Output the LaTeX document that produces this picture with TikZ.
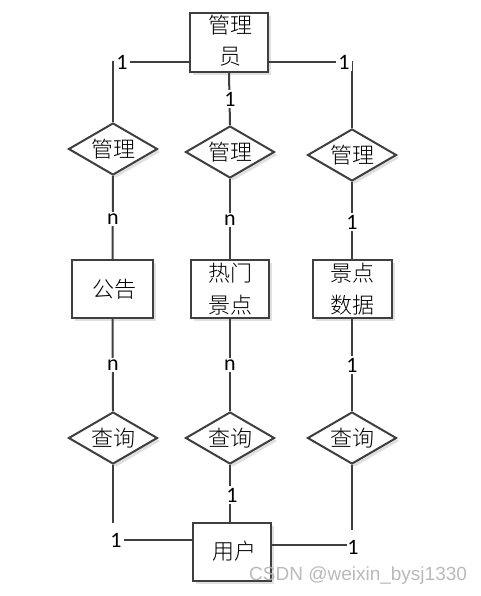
\documentclass[tikz,border=0pt]{standalone}
\usepackage{fontspec}
\setmainfont{Carlito}
\newfontfamily\cjk{Noto Sans CJK SC Light}
\newfontfamily\wmfont{Liberation Sans}
\usetikzlibrary{shapes.geometric,shadows}
\definecolor{ln}{HTML}{3F3F3F}
\tikzset{
  ent/.style={draw=ln, line width=2pt, fill=white, minimum width=80pt, minimum height=58pt, inner sep=0pt,
    drop shadow={shadow xshift=3pt, shadow yshift=-3pt, fill=black!20, opacity=0.6}},
  rel/.style={diamond, draw=ln, line width=2pt, fill=white, minimum width=89pt, minimum height=52pt, inner sep=0pt, aspect=1.7,
    font=\cjk\fontsize{22}{26}\selectfont,
    drop shadow={shadow xshift=3pt, shadow yshift=-3pt, fill=black!20, opacity=0.6}},
  etext/.style={font=\cjk\fontsize{22}{32}\selectfont, align=center, inner sep=0pt},
  card/.style={fill=white, inner sep=2pt, font=\fontsize{22}{24}\selectfont},
  conn/.style={draw=ln, line width=2pt}
}
\begin{document}
\begin{tikzpicture}[x=1pt,y=-1pt]
\useasboundingbox (0,0) rectangle (481,596);
% entities
\node[ent, minimum width=78pt, minimum height=59pt] (mgr) at (229,42.5) {};
\node[etext] (mgrt) at (230,41) {管理\\[-1pt]员};
\node[ent, minimum width=81pt] (e1) at (112.5,289) {};
\node[etext] (e1t) at (114,289) {公告};
\node[ent, minimum width=78pt] (e2) at (230,289) {};
\node[etext] (e2t) at (230,289) {热门\\景点};
\node[ent, minimum width=79pt] (e3) at (352,289) {};
\node[etext] (e3t) at (352,289) {景点\\数据};
\node[ent, minimum width=78pt] (user) at (232,552) {};
\node[etext] (usert) at (234,551) {用户};
% relationships
\node[rel] (d1) at (113,149) {管理};
\node[rel] (d2) at (230,152) {管理};
\node[rel] (d3) at (352,155) {管理};
\node[rel] (q1) at (113,438) {查询};
\node[rel] (q2) at (230,438) {查询};
\node[rel] (q3) at (352,438) {查询};
% connectors
\coordinate (mgrL) at ([yshift=-19.5pt]mgr.west);
\coordinate (mgrR) at ([yshift=-19.5pt]mgr.east);
\coordinate (c1) at (113,62);
\coordinate (c2) at (352,62);
\draw[conn] (mgrL) -- (c1) -- (d1.north);
\draw[conn] (mgrR) -- (c2) -- (d3.north);
\draw[conn] (mgr.south) -- (d2.north);
\draw[conn] (d1.south) -- (e1.north);
\draw[conn] (d2.south) -- (e2.north);
\draw[conn] (d3.south) -- (e3.north);
\draw[conn] (e1.south) -- (q1.north);
\draw[conn] (e2.south) -- (q2.north);
\draw[conn] (e3.south) -- (q3.north);
\draw[conn] (q2.south) -- (q2.south |- user.north);
\coordinate (ul) at ([yshift=12pt]user.west);
\coordinate (ur) at ([yshift=7pt]user.east);
\coordinate (c3) at (113,523);
\coordinate (c4) at (352,530);
\draw[conn] (q1.south) -- (c3);
\draw[conn] (ul) -- (124,540);
\draw[conn] (q3.south) -- (c4);
\draw[conn] (ur) -- (347,545);
% cardinality labels
\node[card] (l1) at (122,62) {1};
\node[card] (l2) at (344,62) {1};
\node[card] (l3) at (230,99) {1};
\node[card] (l4) at (113,219) {n};
\node[card] (l5) at (230,220) {n};
\node[card] (l6) at (352,222) {1};
\node[card] (l7) at (113,365) {n};
\node[card] (l8) at (230,365) {n};
\node[card] (l9) at (352,365) {1};
\node[card] (l10) at (232,495) {1};
\node[card, fill=none] (l11) at (116,540) {1};
\node[card, fill=none] (l12) at (353,547) {1};
% watermark
\node[anchor=west, inner sep=0pt, text=black!30, opacity=0.9, font=\wmfont\fontsize{19}{21}\selectfont] (wm) at (249,576) {CSDN @weixin\_bysj1330};
\end{tikzpicture}
\end{document}
